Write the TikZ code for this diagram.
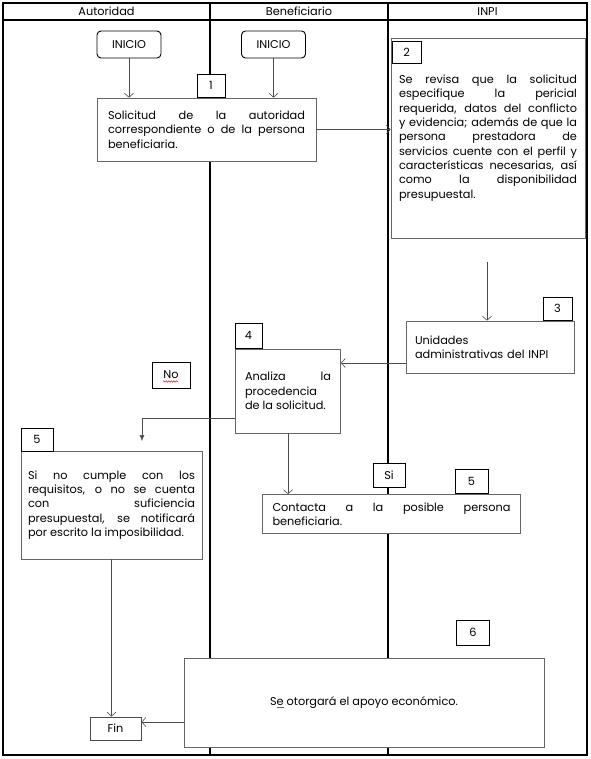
\documentclass[tikz,border=0pt]{standalone}
\usepackage{fontspec}
\setmainfont{Poppins}
\usetikzlibrary{arrows.meta,decorations.pathmorphing}

\newcommand\nohyph{\hyphenpenalty 10000\relax}
\tikzset{
  lane/.style={line width=1.1pt},
  proc/.style={draw=black!60, fill=white, line width=0.7pt, inner sep=0pt,
    align=justify, font=\fontsize{11.3}{14.3}\selectfont\nohyph},
  numbox/.style={draw, fill=white, line width=0.9pt, inner sep=0pt,
    font=\fontsize{11.3}{13}\selectfont},
  startbox/.style={draw, fill=white, rounded corners=4pt, line width=0.9pt,
    inner sep=0pt, minimum width=64pt, minimum height=27pt,
    font=\fontsize{11.3}{13}\selectfont},
  headtext/.style={font=\fontsize{11.3}{13}\selectfont},
  flow/.style={draw=black!70, line width=0.6pt,
    -{Straight Barb[length=4pt,width=9pt]}},
  flowfill/.style={draw=black!70, line width=0.6pt, -{Latex[length=6pt,width=5pt]}}
}

\begin{document}
\begin{tikzpicture}[x=1pt,y=-1pt]
\useasboundingbox (0,0) rectangle (590,759);
% frame and lanes
\draw [lane] (3,3) rectangle (587,755) ;
\draw [lane] (3,20) -- (587,20) ;
\draw [lane] (210,3) -- (210,755) ;
\draw [lane] (388,3) -- (388,755) ;
\node [headtext] (hAut) at (106.5,11.5) {Autoridad} ;
\node [headtext] (hBen) at (299,11.5) {Beneficiario} ;
\node [headtext] (hInpi) at (487.5,11.5) {INPI} ;

% boxes
\node [startbox] (ini1) at (129,44.5) {INICIO} ;
\node [startbox] (ini2) at (273.5,44.5) {INICIO} ;
\node [proc, minimum width=219pt, minimum height=63pt, text width=197pt] (b1) at (206.5,129.5)
  {Solicitud de la autoridad\linebreak correspondiente o de la persona\linebreak beneficiaria.} ;
\node [numbox, minimum width=28pt, minimum height=23pt] (n1) at (211,85.5) {1} ;
\node [proc, minimum width=194pt, minimum height=200pt, text width=178pt] (b2) at (488,138)
  {Se revisa que la solicitud\linebreak especifique la pericial\linebreak requerida, datos del conflicto\linebreak
   y~evidencia; además de que la\linebreak persona prestadora de\linebreak servicios cuente con el perfil y\linebreak
   características necesarias, así\linebreak como la disponibilidad\linebreak presupuestal.} ;
\node [numbox, minimum width=29pt, minimum height=22pt] (n2) at (406.5,52.5) {2} ;
\node [proc, align=left, minimum width=168pt, minimum height=52pt, text width=150pt] (b3) at (490,347)
  {Unidades\\administrativas del INPI} ;
\node [numbox, minimum width=29pt, minimum height=23pt] (n3) at (557.5,308.5) {3} ;
\node [proc, minimum width=105pt, minimum height=84pt, text width=86pt] (b4) at (288,391)
  {Analiza la\linebreak procedencia\hfill\linebreak de la solicitud.} ;
\node [numbox, minimum width=27pt, minimum height=25pt] (n4) at (248.5,335.5) {4} ;
\node [numbox, minimum width=38pt, minimum height=26pt] (no) at (171,375) {No} ;
\node [proc, minimum width=181pt, minimum height=108pt, text width=167pt] (b5) at (111.5,505)
  {Si no cumple con los\linebreak requisitos, o no se cuenta\linebreak con suficiencia\linebreak
   presupuestal, se notificará\linebreak por escrito la imposibilidad.} ;
\node [numbox, minimum width=32pt, minimum height=23pt] (n5a) at (37,439.5) {5} ;
\node [proc, minimum width=258pt, minimum height=39pt, text width=238pt] (b6) at (391.5,514)
  {Contacta a la posible persona\linebreak beneficiaria.} ;
\node [numbox, minimum width=32pt, minimum height=24pt] (si) at (389,475) {Si} ;
\node [numbox, minimum width=33pt, minimum height=24pt] (n5b) at (471.5,481) {5} ;
\node [numbox, minimum width=33pt, minimum height=25pt] (n6) at (473,632.5) {6} ;
\node [proc, align=center, minimum width=360pt, minimum height=89pt] (b7) at (364,702.5)
  {S{\color{blue!70}\underline{\color{black}e}} otorgará el apoyo económico.} ;
\node [numbox, draw=black!70, minimum width=51pt, minimum height=23pt] (fin) at (115.5,728.5) {Fin} ;

% spell check mark
\draw [red, line width=0.5pt, decorate, decoration={snake, amplitude=0.7pt, segment length=2.5pt}]
  (no.center) ++(-8,6.5) -- ++(15,0) ;

% connectors
\draw [flow] (ini1.south) -- (ini1.south |- b1.north) ;
\draw [flow] (ini2.south) -- (ini2.south |- b1.north) ;
\draw [flow] (b1.east) -- (b1.east -| b2.west) ;
\coordinate (t2) at (487,262) ;
\draw [flow] (t2) -- (t2 |- b3.north) ;
\draw [flow] (b3.west) ++(0,16) coordinate (t3) -- (t3 -| b4.east) ;
\coordinate (noend) at (142,441) ;
\draw [flowfill] (b4.west) ++(0,27) coordinate (t4) -- (t4 -| noend) -- (noend) ;
\draw [flow] (b4.south) -- (b4.south |- b6.north) ;
\draw [flow] (b5.south) -- (b5.south |- fin.north) ;
\draw [flow] (b7.west) ++(0,19.5) coordinate (t7) -- (t7 -| fin.east) ;
\end{tikzpicture}
\end{document}
